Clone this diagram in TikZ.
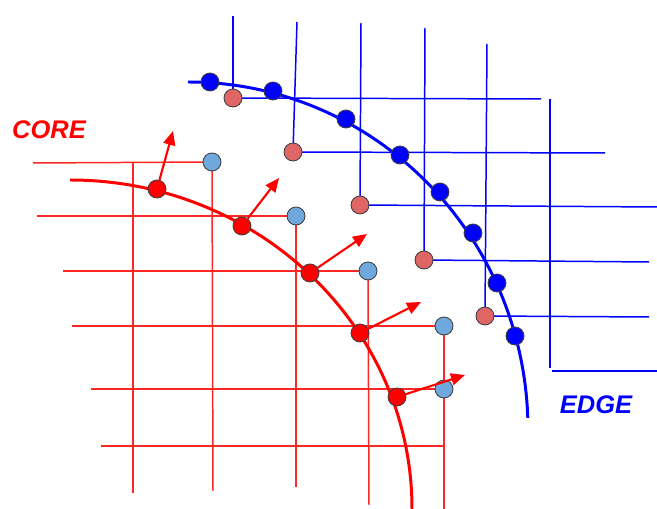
\documentclass[tikz,border=0pt]{standalone}
\usepackage{fontspec}
\setmainfont{Liberation Sans}
\usetikzlibrary{arrows.meta,backgrounds}

\definecolor{skyblue}{HTML}{6FA8DC}
\definecolor{salmon}{HTML}{E06666}

\tikzset{
  dot/.style={circle, draw=black!75, line width=0.5pt, minimum size=0.36cm, inner sep=0pt},
  coredot/.style={dot, fill=red},
  edgedot/.style={dot, fill=blue},
  coregap/.style={dot, fill=skyblue},
  edgegap/.style={dot, fill=salmon},
  coregrid/.style={red!85, line width=0.85pt},
  edgegrid/.style={blue, line width=0.85pt},
  coreline/.style={red, line width=1.7pt},
  edgeline/.style={blue, line width=1.7pt},
  normal/.style={red, line width=1.2pt, -{Triangle[length=0.28cm,width=0.24cm]}},
  tag/.style={font=\fontsize{14.5}{17}\selectfont\bfseries\itshape}
}

\begin{document}
\begin{tikzpicture}[x=0.02cm, y=-0.02cm]
    \useasboundingbox (0,0) rectangle (657,509);

    % Core front points
    \node[coredot] (R1) at (157,189) {};
    \node[coredot] (R2) at (242,226) {};
    \node[coredot] (R3) at (310,273) {};
    \node[coredot] (R4) at (360,333) {};
    \node[coredot] (R5) at (397,397) {};

    % Core grid corners
    \node[coregap] (B1) at (212,162) {};
    \node[coregap] (B2) at (296,216) {};
    \node[coregap] (B3) at (368,271) {};
    \node[coregap] (B4) at (444,326) {};
    \node[coregap] (B5) at (444,389) {};

    % Edge front points
    \node[edgedot] (E1) at (210,82) {};
    \node[edgedot] (E2) at (273,91) {};
    \node[edgedot] (E3) at (346,119) {};
    \node[edgedot] (E4) at (400,155) {};
    \node[edgedot] (E5) at (440,192) {};
    \node[edgedot] (E6) at (473,233) {};
    \node[edgedot] (E7) at (497,283) {};
    \node[edgedot] (E8) at (515,336) {};

    % Edge grid corners
    \node[edgegap] (P1) at (233,98) {};
    \node[edgegap] (P2) at (293,152) {};
    \node[edgegap] (P3) at (360,205) {};
    \node[edgegap] (P4) at (424,260) {};
    \node[edgegap] (P5) at (485,316) {};

    % Labels
    \node[tag, red] (core) at (49,130) {CORE};
    \node[tag, blue] (edge) at (596,405) {EDGE};

    % Tips of the normals
    \coordinate (T1) at (173,131);
    \coordinate (T2) at (279,178);
    \coordinate (T3) at (367,234);
    \coordinate (T4) at (421,302);
    \coordinate (T5) at (465,375);

    \begin{scope}[on background layer]
      % Core grid
      \draw[coregrid] (33,163) -- (B1.center);
      \draw[coregrid] (37,216) -- (B2.center);
      \draw[coregrid] (63,271) -- (B3.center);
      \draw[coregrid] (72,326) -- (B4.center);
      \draw[coregrid] (91,389) -- (B5.center);
      \draw[coregrid] (101,446) -- (444,446);
      \draw[coregrid] (133,163) -- (133,493);
      \draw[coregrid] (B1.center) -- (213,491);
      \draw[coregrid] (B2.center) -- (296,487);
      \draw[coregrid] (B3.center) -- (369,505);
      \draw[coregrid] (B4.center) -- (444,509);

      % Edge grid
      \draw[edgegrid] (233,16) -- (P1.center);
      \draw[edgegrid] (297,22) -- (P2.center);
      \draw[edgegrid] (361,23) -- (P3.center);
      \draw[edgegrid] (425,28) -- (P4.center);
      \draw[edgegrid] (487,44) -- (P5.center);
      \draw[edgegrid] (550,99) -- (550,368);
      \draw[edgegrid] (P1.center) -- (541,99);
      \draw[edgegrid] (P2.center) -- (605,153);
      \draw[edgegrid] (P3.center) -- (657,207);
      \draw[edgegrid] (P4.center) -- (649,262);
      \draw[edgegrid] (P5.center) -- (649,317);
      \draw[edgegrid] (552,371) -- (657,371);

      % Fronts
      \draw[coreline] (70,180) arc[start angle=-90, end angle=0, x radius=342, y radius=329];
      \draw[edgeline] (188,82) arc[start angle=-90, end angle=-2, x radius=340, y radius=348];
    \end{scope}

    % Normals
    \draw[normal] (R1) -- (T1);
    \draw[normal] (R2) -- (T2);
    \draw[normal] (R3) -- (T3);
    \draw[normal] (R4) -- (T4);
    \draw[normal] (R5) -- (T5);
\end{tikzpicture}
\end{document}
